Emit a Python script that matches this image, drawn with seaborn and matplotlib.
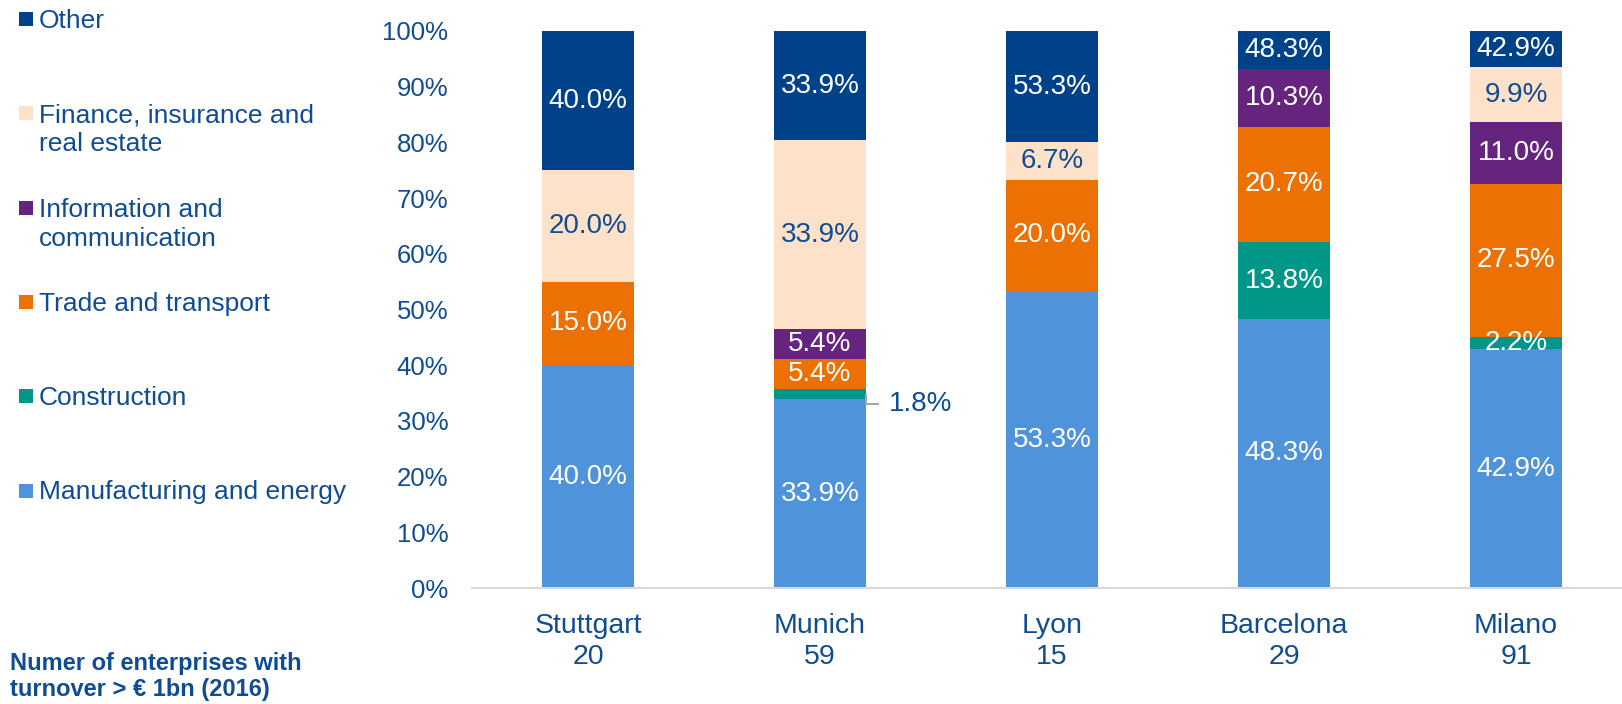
import matplotlib
matplotlib.use("Agg")
import matplotlib.pyplot as plt
import seaborn as sns
import pandas as pd
import numpy as np
from matplotlib.patches import Rectangle

# ---------------- data ----------------
cities = ["Stuttgart", "Munich", "Lyon", "Barcelona", "Milano"]
enterprise_counts = [20, 59, 15, 29, 91]
sectors = ["Manufacturing and energy", "Construction", "Trade and transport",
           "Information and communication", "Finance, insurance and real estate", "Other"]
legend_labels = ["Manufacturing and energy", "Construction", "Trade and transport",
                 "Information and\ncommunication", "Finance, insurance and\nreal estate", "Other"]
manufacturing = [40.0, 33.9, 53.3, 48.3, 42.9]
construction = [0.0, 1.8, 0.0, 13.8, 2.2]
trade = [15.0, 5.4, 20.0, 20.7, 27.5]
information = [0.0, 5.4, 0.0, 10.3, 11.0]
finance = [20.0, 33.9, 6.7, 0.0, 9.9]
other = [25.0, 19.6, 20.0, 6.9, 6.5]          # segment heights (rest up to 100%)
other_labels = [40.0, 33.9, 53.3, 48.3, 42.9]  # values printed on the "Other" segments
y_ticks = [0, 10, 20, 30, 40, 50, 60, 70, 80, 90, 100]
note_text = "Numer of enterprises with\nturnover > € 1bn (2016)"

# ---------------- style ----------------
colors = ["#4F93DB", "#009688", "#ED7003", "#65257F", "#FDE1C9", "#00428A"]
label_colors = ["white", "white", "white", "white", "#0F4C92", "white"]
text_blue = "#0F4C92"

sns.set_style("white")
plt.rcParams["font.family"] = ["Liberation Sans", "DejaVu Sans"]

W, H = 1622, 704
fig = plt.figure(figsize=(W / 100, H / 100), dpi=100)
ax = fig.add_axes([472 / W, (H - 588) / H, 1160 / W, (588 - 31) / H])

layers = [manufacturing, construction, trade, information, finance, other]
print_values = [manufacturing, construction, trade, information, finance, other_labels]
cum = np.cumsum(np.array(layers), axis=0)
xlabels = [f"{c}\n{n}" for c, n in zip(cities, enterprise_counts)]

# stacked bars: draw cumulative totals from the top layer down
for i in reversed(range(len(layers))):
    df = pd.DataFrame({"city": xlabels, "value": cum[i]})
    sns.barplot(data=df, x="city", y="value", color=colors[i], saturation=1,
                width=0.4, errorbar=None, ax=ax, edgecolor="none", linewidth=0)

# segment labels
bar_half = 0.2
for i, (vals, pvals) in enumerate(zip(layers, print_values)):
    for j in range(len(cities)):
        v = vals[j]
        if v <= 0:
            continue
        bottom = cum[i][j] - v
        yc = bottom + v / 2
        txt = f"{pvals[j]:.1f}%"
        if v < 2.0:
            # outside label with leader line
            x0 = j + bar_half
            ax.plot([x0, x0, x0 + 0.056], [yc, yc - 1.8, yc - 1.8],
                    color="#A6A6A6", lw=1.5, solid_capstyle="butt", clip_on=False)
            ax.text(x0 + 0.095, yc - 1.8, txt, ha="left", va="center",
                    fontsize=20, color=text_blue)
        else:
            ax.text(j, yc, txt, ha="center", va="center", fontsize=20,
                    color=label_colors[i])

ax.set_ylim(0, 100)
ax.set_xlim(-0.5, len(cities) - 0.5)
ax.set_yticks(y_ticks)
ax.set_yticklabels([f"{t}%" for t in y_ticks])
ax.set_xlabel("")
ax.set_ylabel("")
ax.tick_params(axis="y", length=0, pad=17, labelsize=18.5, labelcolor=text_blue)
ax.tick_params(axis="x", length=0, pad=18, labelsize=20.5, labelcolor=text_blue)
for lab in ax.get_xticklabels():
    lab.set_linespacing(1.25)
for s in ["top", "right", "left"]:
    ax.spines[s].set_visible(False)
ax.spines["bottom"].set_color("#D9D9D9")
ax.spines["bottom"].set_linewidth(1.5)
ax.grid(False)

# manual legend (top to bottom: Other ... Manufacturing)
legend_y = [19, 113, 208, 301.5, 396, 490.5]
for k, idx in enumerate(reversed(range(len(sectors)))):
    yc = legend_y[k]
    fig.add_artist(Rectangle((19 / W, 1 - (yc + 7) / H), 14 / W, 14 / H,
                             transform=fig.transFigure, facecolor=colors[idx],
                             edgecolor="none"))
    fig.text(39 / W, 1 - (yc - 10) / H, legend_labels[idx], ha="left", va="top",
             fontsize=19, color=text_blue, linespacing=1.27)

fig.text(10 / W, 1 - 652 / H, note_text, ha="left", va="top", fontsize=17,
         fontweight="bold", color=text_blue, linespacing=1.15)

fig.savefig("out.png", dpi=100)
